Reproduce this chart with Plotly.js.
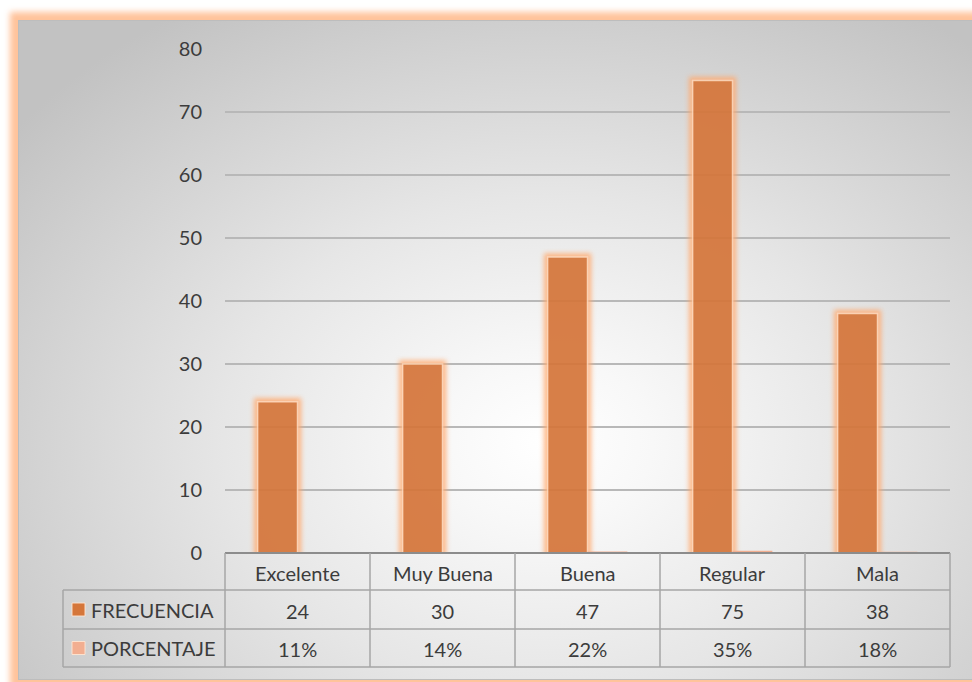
<!DOCTYPE html>
<html>
<head>
<meta charset="utf-8">
<script src="https://cdn.plot.ly/plotly-3.0.1.min.js"></script>
<style>
  html, body { margin: 0; padding: 0; background: #ffffff; width: 972px; height: 682px; overflow: hidden; }
  #frame {
    position: absolute; left: 18px; top: 20px; width: 960px; height: 660px;
    box-sizing: border-box; border: 1px solid #bdbdbd;
    background: radial-gradient(ellipse 70% 78% at 55% 64%, #ffffff 0%, #f8f8f8 16%, #e6e6e6 48%, #d0d0d0 80%, #c2c2c2 100%);
    box-shadow: 0 0 6px 8px rgba(255, 180, 130, 0.8);
  }
  #chart { position: absolute; left: 0; top: 0; width: 972px; height: 682px; }
</style>
</head>
<body>
<div id="frame"></div>
<div id="chart"></div>
<script>
// ---- data ----
const categories = ["Excelente", "Muy Buena", "Buena", "Regular", "Mala"];
const frecuencia = [24, 30, 47, 75, 38];
const porcentaje = [0.11, 0.14, 0.22, 0.35, 0.18];
const seriesNames = ["FRECUENCIA", "PORCENTAJE"];
const seriesColors = ["#D5763A", "#F2AE90"];
const yTicks = [0, 10, 20, 30, 40, 50, 60, 70, 80];

// ---- geometry helpers (paper coords) ----
const plotTop = 49, plotBottom = 553, plotLeft = 225, plotRight = 950;
const plotH = plotBottom - plotTop, plotW = plotRight - plotLeft;
const py = p => (plotBottom - p) / plotH;      // pixel -> paper y
const px = p => (p - plotLeft) / plotW;        // pixel -> paper x

const rowEdges = [553, 590, 629, 667];
const tableLeft = 63;
const txtColor = "#3c3c3c";
const fontFam = "Lato, 'Open Sans', sans-serif";
const fontSize = 20;
const gridCol = "#b8b8b8";

const traces = [
  {
    type: "bar", name: seriesNames[0], x: categories, y: frecuencia,
    marker: { color: seriesColors[0], opacity: 0.93, line: { color: "rgba(255,215,185,0.9)", width: 1.5 } },
    hoverinfo: "none"
  },
  {
    type: "bar", name: seriesNames[1], x: categories, y: porcentaje,
    marker: { color: seriesColors[1], line: { width: 0 } },
    hoverinfo: "none"
  }
];

const shapes = [];
const annotations = [];
const lineStyle = { color: "#a6a6a6", width: 1.5 };

shapes.push({ type: "line", xref: "paper", yref: "paper", x0: 0, x1: 1, y0: py(553), y1: py(553), line: { color: "#8c8c8c", width: 2 } });
for (let i = 1; i < rowEdges.length; i++) {
  shapes.push({ type: "line", xref: "paper", yref: "paper", x0: px(tableLeft), x1: 1, y0: py(rowEdges[i]), y1: py(rowEdges[i]), line: lineStyle });
}
shapes.push({ type: "line", xref: "paper", yref: "paper", x0: px(tableLeft), x1: px(tableLeft), y0: py(rowEdges[1]), y1: py(rowEdges[3]), line: lineStyle });
for (let i = 0; i <= categories.length; i++) {
  const xx = i / categories.length;
  shapes.push({ type: "line", xref: "paper", yref: "paper", x0: xx, x1: xx, y0: py(rowEdges[0]), y1: py(rowEdges[3]), line: lineStyle });
}
for (let s = 0; s < seriesNames.length; s++) {
  const cy = (rowEdges[s + 1] + rowEdges[s + 2]) / 2;
  shapes.push({ type: "rect", xref: "paper", yref: "paper",
    x0: px(72), x1: px(85), y0: py(cy - 6.5), y1: py(cy + 6.5),
    fillcolor: seriesColors[s], line: { color: "rgba(255,230,210,0.9)", width: 1 } });
  annotations.push({ xref: "paper", yref: "paper", x: px(89), y: py(cy), xanchor: "left", yanchor: "middle",
    text: seriesNames[s], showarrow: false, font: { family: fontFam, size: fontSize, color: txtColor } });
}
const rowVals = [categories, frecuencia.map(String), porcentaje.map(v => Math.round(v * 100) + "%")];
for (let r = 0; r < rowVals.length; r++) {
  const cy = (rowEdges[r] + rowEdges[r + 1]) / 2;
  categories.forEach((c, i) => {
    annotations.push({ xref: "x", yref: "paper", x: c, y: py(cy + 1), xanchor: "center", yanchor: "middle",
      text: rowVals[r][i], showarrow: false, font: { family: fontFam, size: fontSize, color: txtColor } });
  });
}

const layout = {
  width: 972, height: 682,
  margin: { l: plotLeft, r: 972 - plotRight, t: plotTop, b: 682 - plotBottom },
  paper_bgcolor: "rgba(0,0,0,0)", plot_bgcolor: "rgba(0,0,0,0)",
  showlegend: false,
  barmode: "group", bargap: 0.45, bargroupgap: 0,
  font: { family: fontFam, color: txtColor },
  xaxis: { showticklabels: false, showgrid: false, zeroline: false, showline: false, ticks: "" },
  yaxis: {
    range: [0, 80], tickvals: yTicks, showgrid: true, gridcolor: gridCol, gridwidth: 1.2,
    zeroline: false, showline: false, ticks: "", ticklabelstandoff: 22,
    tickfont: { family: fontFam, size: fontSize, color: txtColor }
  },
  shapes: shapes,
  annotations: annotations
};

Plotly.newPlot("chart", traces, layout, { staticPlot: true, displayModeBar: false }).then(gd => {
  // add an SVG glow filter and apply it to the FRECUENCIA bars
  const svg = gd.querySelector("svg.main-svg");
  const ns = "http://www.w3.org/2000/svg";
  let defs = svg.querySelector("defs");
  if (!defs) { defs = document.createElementNS(ns, "defs"); svg.insertBefore(defs, svg.firstChild); }
  const f = document.createElementNS(ns, "filter");
  f.setAttribute("id", "barglow");
  f.setAttribute("x", "-50%"); f.setAttribute("y", "-20%");
  f.setAttribute("width", "200%"); f.setAttribute("height", "140%");
  f.innerHTML =
    '<feMorphology in="SourceAlpha" operator="dilate" radius="3" result="dil"/>' +
    '<feGaussianBlur in="dil" stdDeviation="2.5" result="blur"/>' +
    '<feFlood flood-color="#ffab70" flood-opacity="0.9"/>' +
    '<feComposite in2="blur" operator="in" result="glow"/>' +
    '<feMerge><feMergeNode in="glow"/><feMergeNode in="SourceGraphic"/></feMerge>';
  defs.appendChild(f);
  const firstTrace = gd.querySelector(".barlayer .trace");
  if (firstTrace) firstTrace.querySelectorAll("path").forEach(p => p.setAttribute("filter", "url(#barglow)"));
});
</script>
</body>
</html>
